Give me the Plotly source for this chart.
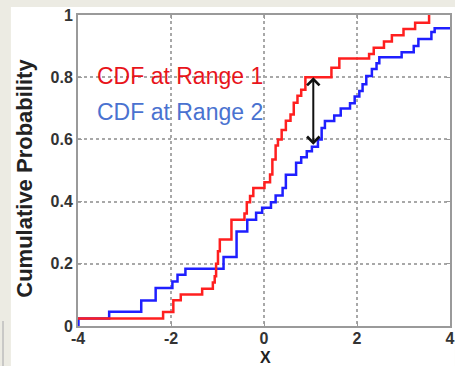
import plotly.graph_objects as go

# Empirical CDF step locations and levels (each level holds until the next x)
range1_x = [-4.00, -2.17, -1.95, -1.79, -1.33, -1.10, -1.06, -1.03, -0.99, -0.95,
            -0.70, -0.42, -0.37, -0.30, -0.23, 0.01, 0.13, 0.18, 0.25, 0.30,
            0.38, 0.47, 0.57, 0.64, 0.72, 0.80, 0.89, 1.45, 1.62, 2.26,
            2.36, 2.58, 2.75, 3.00, 3.25, 3.55]
range1_y = [0.024, 0.045, 0.083, 0.101, 0.120, 0.140, 0.160, 0.200, 0.240, 0.278,
            0.342, 0.362, 0.398, 0.418, 0.444, 0.462, 0.487, 0.535, 0.580, 0.600,
            0.630, 0.660, 0.680, 0.718, 0.740, 0.760, 0.800, 0.830, 0.860, 0.875,
            0.895, 0.915, 0.935, 0.955, 0.975, 1.000]

range2_x = [-4.00, -3.99, -3.33, -2.64, -2.33, -1.97, -1.86, -1.69, -0.87, -0.59,
            -0.36, -0.17, -0.04, 0.15, 0.25, 0.40, 0.47, 0.69, 0.80, 0.92,
            1.03, 1.16, 1.24, 1.31, 1.51, 1.65, 1.85, 1.95, 2.05, 2.12,
            2.20, 2.32, 2.42, 2.48, 2.96, 3.22, 3.32, 3.60, 3.67, 4.00]
range2_y = [0.000, 0.024, 0.046, 0.082, 0.122, 0.143, 0.165, 0.184, 0.222, 0.304,
            0.342, 0.364, 0.380, 0.398, 0.420, 0.444, 0.486, 0.525, 0.543, 0.562,
            0.576, 0.600, 0.637, 0.659, 0.677, 0.699, 0.716, 0.738, 0.756, 0.777,
            0.804, 0.826, 0.845, 0.864, 0.880, 0.900, 0.923, 0.945, 0.957, 0.957]

x_ticks = [-4, -2, 0, 2, 4]
x_tick_text = ["-4", "-2", "0", "2", "4"]
y_ticks = [0, 0.2, 0.4, 0.6, 0.8, 1]
y_tick_text = ["0", "0.2", "0.4", "0.6", "0.8", "1"]

# Maximum vertical gap between the two CDFs
gap_x = 1.06
gap_top = 0.800
gap_bottom = 0.578

W, H = 455, 366
L, R, T, B = 78, 0, 15, 40
pw, ph = W - L - R, H - T - B

def px(xpix):
    return (xpix - L) / pw

def py(ypix):
    return (H - B - ypix) / ph

FONT = "Arial, Liberation Sans, sans-serif"

fig = go.Figure()
fig.add_trace(go.Scatter(x=range2_x, y=range2_y, mode="lines", line_shape="hv",
                         line=dict(color="#1f1fff", width=2.5), hoverinfo="skip"))
fig.add_trace(go.Scatter(x=range1_x, y=range1_y, mode="lines", line_shape="hv",
                         line=dict(color="#ff1f1f", width=2.5), hoverinfo="skip"))

axis_common = dict(
    showgrid=True, gridcolor="#a8a8a8", griddash="dot", gridwidth=1.5,
    showline=True, linecolor="#9a9a9a", linewidth=2, mirror="ticks",
    ticks="inside", ticklen=4, tickcolor="#9a9a9a", zeroline=False,
    ticklabeloverflow="allow",
    tickfont=dict(family=FONT, size=16, color="#333333", weight="bold"),
)

fig.update_layout(
    width=W, height=H,
    margin=dict(l=L, r=R, t=T, b=B),
    paper_bgcolor="#ecebe3",
    plot_bgcolor="rgba(0,0,0,0)",
    showlegend=False,
    xaxis=dict(range=[-4, 4], tickvals=x_ticks, ticktext=x_tick_text,
               ticklabelstandoff=-3, **axis_common),
    yaxis=dict(range=[0, 1], tickvals=y_ticks, ticktext=y_tick_text, **axis_common),
    shapes=[
        dict(type="rect", xref="paper", yref="paper", layer="below",
             x0=px(10), x1=px(W + 5), y0=py(H + 5), y1=py(7),
             fillcolor="white", line=dict(width=0)),
        dict(type="line", xref="paper", yref="paper", layer="below",
             x0=px(2), x1=px(2), y0=py(H + 5), y1=py(321),
             line=dict(color="#bdbdbd", width=1.5)),
    ],
    annotations=[
        dict(x=px(268), y=py(357), xref="paper", yref="paper", text="X",
             showarrow=False, xanchor="center", yanchor="middle",
             font=dict(family=FONT, size=16, color="#222222", weight="bold")),
        dict(x=px(23), y=py(178), xref="paper", yref="paper",
             text="Cumulative Probability", textangle=-90,
             showarrow=False, xanchor="center", yanchor="middle",
             font=dict(family=FONT, size=22, color="#222222", weight="bold")),
        dict(x=-3.63, y=0.803, xref="x", yref="y", text="CDF at Range 1",
             showarrow=False, xanchor="left", yanchor="middle",
             font=dict(family=FONT, size=23, color="#e8141b")),
        dict(x=-3.63, y=0.687, xref="x", yref="y", text="CDF at Range 2",
             showarrow=False, xanchor="left", yanchor="middle",
             font=dict(family=FONT, size=23, color="#4a72d0")),
        dict(x=gap_x, y=gap_top, ax=gap_x, ay=gap_bottom, xref="x", yref="y",
             axref="x", ayref="y", text="", showarrow=True,
             arrowside="end+start", arrowhead=4, startarrowhead=4,
             arrowsize=1.2, startarrowsize=1.2, arrowwidth=2,
             arrowcolor="#111111", standoff=0, startstandoff=0),
    ],
)

fig.write_html("out.html")
